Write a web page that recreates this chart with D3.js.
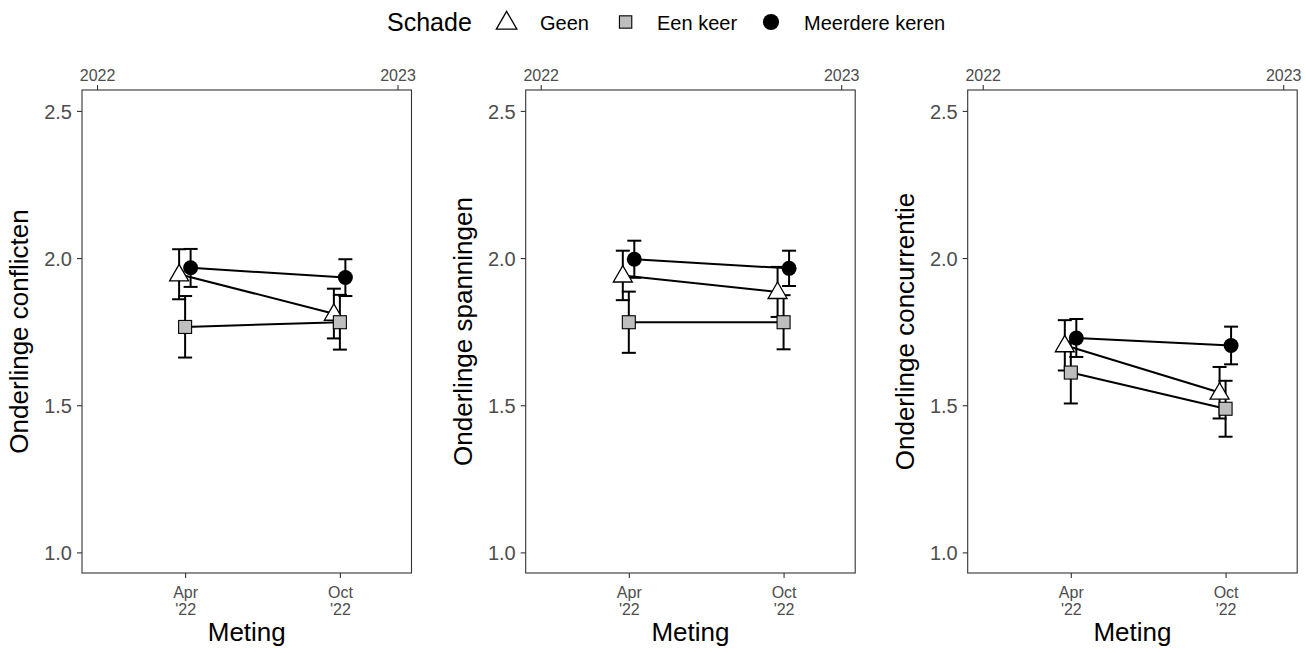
<!DOCTYPE html>
<html><head><meta charset="utf-8">
<script src="https://cdn.jsdelivr.net/npm/d3@7"></script>
<style>body{margin:0;background:#fff}svg{display:block}text{font-family:"Liberation Sans",Arial,sans-serif}</style>
</head><body><svg id="c" width="1306" height="653"></svg>
<script>
// ---- data ----
const measureDates = ["2022-04-18", "2022-10-23"];
const bottomTickLabels = [["Apr", "'22"], ["Oct", "'22"]];
const topTickDates = ["2022-01-01", "2023-01-01"];
const topTickLabels = ["2022", "2023"];
const yTicks = [1.0, 1.5, 2.0, 2.5];
const groups = ["Geen", "Een keer", "Meerdere keren"];
const panelTitles = ["Onderlinge conflicten", "Onderlinge spanningen", "Onderlinge concurrentie"];
// means [Apr, Oct] per group
const conflictenMean = [[1.945, 1.811], [1.766, 1.782], [1.967, 1.934]];
const conflictenLow  = [[1.860, 1.727], [1.662, 1.689], [1.902, 1.871]];
const conflictenHigh = [[2.030, 1.896], [1.871, 1.875], [2.031, 1.996]];
const spanningenMean = [[1.941, 1.885], [1.782, 1.782], [1.996, 1.965]];
const spanningenLow  = [[1.857, 1.800], [1.678, 1.690], [1.933, 1.905]];
const spanningenHigh = [[2.025, 1.970], [1.886, 1.874], [2.059, 2.025]];
const concurrentieMean = [[1.704, 1.543], [1.611, 1.488], [1.728, 1.703]];
const concurrentieLow  = [[1.618, 1.455], [1.506, 1.393], [1.664, 1.639]];
const concurrentieHigh = [[1.789, 1.630], [1.716, 1.583], [1.793, 1.767]];

const panelData = [
  {mean: conflictenMean, low: conflictenLow, high: conflictenHigh},
  {mean: spanningenMean, low: spanningenLow, high: spanningenHigh},
  {mean: concurrentieMean, low: concurrentieLow, high: concurrentieHigh}
];

// ---- layout ----
const svg = d3.select("#c");
const panelLefts = [82, 525.7, 967.7];
const pw = 329.5, pTop = 90, pBottom = 573;
const dodge = [-6, 0, 5.5];
const parse = d3.utcParse("%Y-%m-%d");
const gray = "#4d4d4d";

const y = d3.scaleLinear().domain([0.93, 2.571]).range([pBottom, pTop]);

function drawShape(g, gi, cx, cy, k) {
  k = k || 1;
  if (gi === 0) {
    const s = 19 * k, h = s * Math.sqrt(3) / 2;
    g.append("path")
      .attr("d", `M${cx},${cy - h * 0.6}L${cx + s / 2},${cy + h * 0.4}L${cx - s / 2},${cy + h * 0.4}Z`)
      .attr("fill", "#fff").attr("stroke", "#000").attr("stroke-width", 1.3);
  } else if (gi === 1) {
    const s = 13 * (k > 1 ? 0.95 : 1);
    g.append("rect").attr("x", cx - s / 2).attr("y", cy - s / 2).attr("width", s).attr("height", s)
      .attr("fill", "#bebebe").attr("stroke", "#000").attr("stroke-width", 1.1);
  } else {
    g.append("circle").attr("cx", cx).attr("cy", cy).attr("r", 7.5 * k).attr("fill", "#000");
  }
}

panelData.forEach((pd, pi) => {
  const L = panelLefts[pi];
  const x = d3.scaleUtc().domain([new Date(Date.UTC(2021, 11, 13, 18)), new Date(Date.UTC(2023, 0, 18))]).range([L, L + pw]);
  const g = svg.append("g");

  g.append("rect").attr("x", L).attr("y", pTop).attr("width", pw).attr("height", pBottom - pTop)
    .attr("fill", "none").attr("stroke", "#333").attr("stroke-width", 1.1);

  const ya = g.append("g").attr("transform", `translate(${L},0)`)
    .call(d3.axisLeft(y).tickValues(yTicks).tickFormat(d3.format(".1f")).tickSize(5).tickPadding(5));
  ya.select(".domain").remove();
  ya.selectAll("line").attr("stroke", "#333").attr("stroke-width", 1.1);
  ya.selectAll("text").attr("fill", gray).style("font-size", "20px").attr("dy", "0.36em");

  const ta = g.append("g").attr("transform", `translate(0,${pTop})`)
    .call(d3.axisTop(x).tickValues(topTickDates.map(parse)).tickFormat((d, i) => topTickLabels[i]).tickSize(5).tickPadding(4));
  ta.select(".domain").remove();
  ta.selectAll("line").attr("stroke", "#333").attr("stroke-width", 1.1);
  ta.selectAll("text").attr("fill", gray).style("font-size", "16px");

  const ba = g.append("g").attr("transform", `translate(0,${pBottom})`)
    .call(d3.axisBottom(x).tickValues(measureDates.map(parse)).tickFormat("").tickSize(5));
  ba.select(".domain").remove();
  ba.selectAll("line").attr("stroke", "#333").attr("stroke-width", 1.1);
  ba.selectAll(".tick").each(function (d, i) {
    const t = d3.select(this).append("text").attr("fill", gray).style("font-size", "16px")
      .attr("text-anchor", "middle").attr("y", 25);
    t.append("tspan").attr("x", 0).text(bottomTickLabels[i][0]);
    t.append("tspan").attr("x", 0).attr("dy", 17).text(bottomTickLabels[i][1]);
  });

  g.append("text").attr("x", L + pw / 2).attr("y", 641).attr("text-anchor", "middle")
    .style("font-size", "26px").attr("fill", "#000").text("Meting");
  g.append("text").attr("transform", `translate(${L - 54},${(pTop + pBottom) / 2}) rotate(-90)`)
    .attr("text-anchor", "middle").style("font-size", "26px").attr("fill", "#000").text(panelTitles[pi]);

  const dates = measureDates.map(parse);
  groups.forEach((grp, gi) => {
    const pts = dates.map((d, ti) => [x(d) + dodge[gi], y(pd.mean[gi][ti])]);
    g.append("path").attr("d", d3.line()(pts)).attr("fill", "none").attr("stroke", "#000").attr("stroke-width", 2);
  });
  groups.forEach((grp, gi) => {
    dates.forEach((d, ti) => {
      const cx = x(d) + dodge[gi];
      const y1 = y(pd.low[gi][ti]), y2 = y(pd.high[gi][ti]);
      const eb = g.append("g").attr("stroke", "#000").attr("stroke-width", 2);
      eb.append("line").attr("x1", cx).attr("x2", cx).attr("y1", y1).attr("y2", y2);
      eb.append("line").attr("x1", cx - 7).attr("x2", cx + 7).attr("y1", y1).attr("y2", y1);
      eb.append("line").attr("x1", cx - 7).attr("x2", cx + 7).attr("y1", y2).attr("y2", y2);
    });
  });
  groups.forEach((grp, gi) => {
    dates.forEach((d, ti) => {
      drawShape(g, gi, x(d) + dodge[gi], y(pd.mean[gi][ti]));
    });
  });
});

const lg = svg.append("g");
lg.append("text").attr("x", 387).attr("y", 31).style("font-size", "25px").attr("fill", "#000").text("Schade");
const keyX = [506.6, 625.6, 771];
const labX = [540, 657, 804];
groups.forEach((grp, gi) => {
  drawShape(lg, gi, keyX[gi], 22, 1.08);
  lg.append("text").attr("x", labX[gi]).attr("y", 29.5).style("font-size", "20px").attr("fill", "#000").text(grp);
});
</script></body></html>
